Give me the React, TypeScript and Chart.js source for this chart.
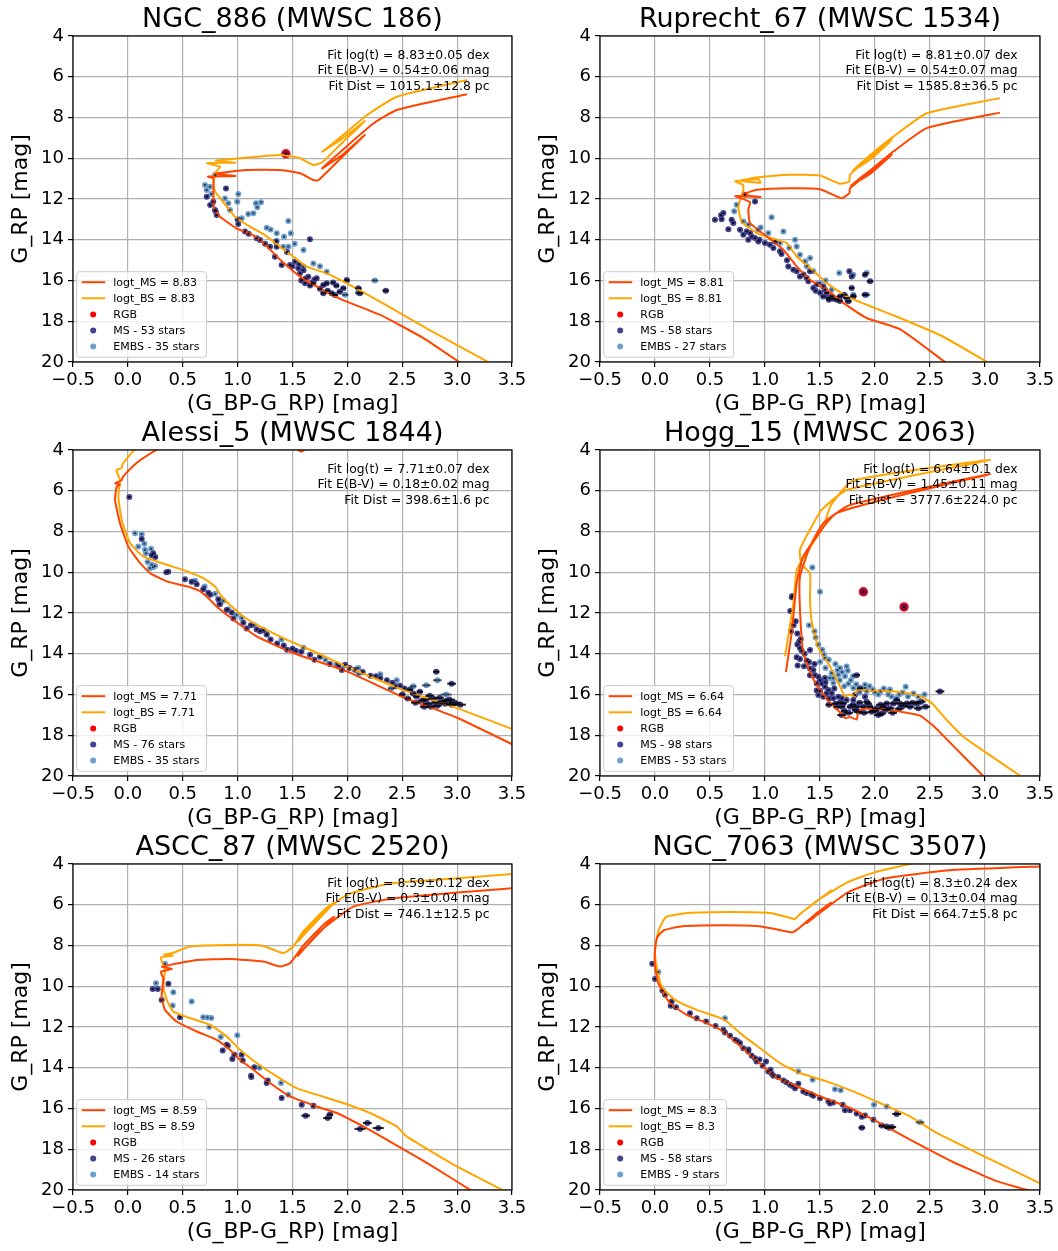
import React, { useEffect, useRef } from "react";
import { Chart, registerables } from "chart.js";
Chart.register(...registerables);
Chart.defaults.font.family = '"DejaVu Sans", sans-serif';

type P = number[];

const xTicks = [-0.5, 0, 0.5, 1, 1.5, 2, 2.5, 3, 3.5];
const yTicks = [4, 6, 8, 10, 12, 14, 16, 18, 20];

// ---------- Panel 1: NGC_886 ----------
const p1Title = "NGC_886 (MWSC 186)";
const p1Fit = ["Fit log(t) = 8.83±0.05 dex", "Fit E(B-V) = 0.54±0.06 mag", "Fit Dist = 1015.1±12.8 pc"];
const p1Logt = "8.83";
const p1Counts = [53, 35];
const p1MsIso: P[] = [[3.1,20.3],[2.7,18.85],[2.30,17.69],[1.96,16.96],[1.78,16.47],[1.57,15.81],[1.39,14.99],[1.27,14.34],[1.14,13.77],[0.99,13.44],[0.84,12.87],[0.79,12.54],[0.78,12.05],[0.78,11.39],[0.78,11.0],[0.73,10.9],[0.98,10.87],[0.80,10.76],[1.08,10.58],[1.39,10.58],[1.57,10.74],[1.69,11.07],[1.735,11.08],[1.95,9.95],[2.16,8.86],[1.96,9.80],[1.77,10.5],[1.99,9.43],[2.24,8.28],[2.45,7.63],[3.09,6.86]];
const p1BsIso: P[] = [[3.35,20.2],[2.75,18.43],[2.297,17.04],[1.994,16.14],[1.812,15.65],[1.629,15.32],[1.507,14.83],[1.386,14.34],[1.249,13.77],[1.113,13.36],[0.976,12.87],[0.855,12.05],[0.794,11.64],[0.778,11.23],[0.794,10.74],[0.84,10.41],[0.72,10.24],[0.98,10.22],[0.80,10.12],[0.95,10.04],[1.39,9.84],[1.57,10.0],[1.69,10.33],[1.77,10.2],[1.96,9.2],[2.16,8.17],[1.95,9.05],[1.77,9.68],[1.87,9.27],[2.18,7.88],[2.45,6.98],[3.09,6.16]];
const p1Rgb: P[] = [[1.44,9.78]];
const p1MsStars: P[] = [[0.718,11.89],[0.794,12.54],[0.809,12.79],[0.778,12.13],[0.894,11.48],[1.006,13.23],[1.067,13.60],[1.174,13.93],[1.204,14.01],[1.295,14.34],[1.356,14.34],[1.340,14.83],[1.401,15.24],[1.477,15.24],[1.523,15.08],[1.553,15.40],[1.568,15.65],[1.584,15.98],[1.614,16.14],[1.644,15.81],[1.690,16.14,0.02],[1.720,15.89],[1.781,16.22,0.02],[1.812,16.14,0.02],[1.857,16.63,0.025],[1.887,16.71,0.025],[1.781,16.63,0.025],[1.963,16.38,0.025],[1.994,15.98,0.02],[2.10,16.38,0.03],[2.115,16.63,0.03],[1.659,13.98],[2.35,16.5,0.03],[1.35,14.1],[1.45,14.6],[1.50,15.3],[1.62,15.9],[1.66,16.25,0.02],[1.75,16.4,0.02],[1.70,15.95],[1.82,16.5,0.025],[1.90,16.25,0.025],[1.00,13.0],[1.10,13.7],[1.25,14.2],[0.75,12.3],[0.80,12.6],[1.56,15.2],[1.60,15.5],[1.87,16.1,0.02],[1.58,16.0],[1.68,16.1],[1.93,16.55,0.025]];
const p1Embs: P[] = [[0.703,11.31],[0.718,11.56],[0.748,11.40],[0.794,10.82],[0.885,11.97],[0.915,12.21],[0.930,12.54],[1.006,11.76],[0.997,12.13],[1.037,12.95],[1.097,12.74],[1.143,12.70],[1.167,12.21],[1.179,12.41],[1.213,12.16],[1.265,13.41],[1.356,13.68],[1.423,13.85],[1.462,13.08],[1.484,13.68],[1.356,14.05],[1.462,14.34],[1.598,15.32],[1.690,15.16],[1.812,15.57],[2.0,16.0,0.02],[2.25,16.0,0.03],[1.98,16.7,0.03],[0.76,11.75],[1.30,13.5],[1.52,14.2],[1.60,14.5],[1.75,15.3],[2.10,16.6,0.03],[1.416,14.34]];

// ---------- Panel 2: Ruprecht_67 ----------
const p2Title = "Ruprecht_67 (MWSC 1534)";
const p2Fit = ["Fit log(t) = 8.81±0.07 dex", "Fit E(B-V) = 0.54±0.07 mag", "Fit Dist = 1585.8±36.5 pc"];
const p2Logt = "8.81";
const p2Counts = [58, 27];
const p2MsIso: P[] = [[2.66,20.1],[2.23,18.4],[1.924,17.84],[1.712,17.10],[1.561,16.45],[1.409,15.96],[1.288,15.31],[1.167,14.49],[1.015,13.84],[0.864,13.18],[0.848,12.53],[0.864,12.15],[0.73,11.86],[0.96,11.9],[0.80,11.78],[0.924,11.55],[1.227,11.47],[1.5,11.52],[1.697,11.96],[1.767,11.71],[1.773,11.47],[1.96,10.66],[2.152,9.83],[1.96,10.75],[1.78,11.35],[1.955,10.6],[2.167,9.67],[2.47,8.52],[3.136,7.76]];
const p2BsIso: P[] = [[3.05,20.1],[2.6,18.7],[2.227,17.84],[1.924,17.19],[1.742,16.78],[1.561,16.12],[1.379,15.23],[1.288,14.82],[1.197,14.16],[1.106,14.0],[0.924,13.67],[0.788,13.10],[0.758,12.37],[0.803,11.55],[0.80,11.3],[0.73,11.13],[0.94,11.03],[0.96,11.2],[0.78,11.1],[0.92,10.95],[1.227,10.81],[1.5,10.85],[1.682,11.25],[1.767,11.14],[1.773,10.8],[1.96,9.93],[2.152,9.10],[1.96,10.05],[1.80,10.6],[1.955,9.85],[2.167,8.94],[2.47,7.79],[3.136,7.05]];
const p2Rgb: P[] = [];
const p2MsStars: P[] = [[0.545,13.02],[0.621,12.69],[0.606,12.99],[0.697,13.02],[0.712,13.18],[0.667,13.48],[0.773,13.51],[0.833,13.59],[0.864,13.67],[0.803,13.75],[0.879,13.84],[0.909,13.92],[0.848,14.0],[0.939,14.08],[1.0,14.16],[1.045,14.25],[1.076,14.41],[1.136,14.57],[1.091,14.08],[1.212,15.31],[1.258,15.47],[1.288,15.55],[1.318,15.80],[1.379,15.88],[1.409,15.55],[1.394,16.04],[1.439,16.37],[1.530,16.29],[1.545,16.45],[1.561,16.61,0.02],[1.530,16.78,0.02],[1.576,16.86,0.02],[1.606,16.78,0.02],[1.652,16.94,0.025],[1.682,16.78,0.025],[1.742,16.86,0.03],[1.758,17.02,0.03],[1.788,16.37,0.025],[1.803,16.78,0.03],[1.767,15.55],[1.788,15.80],[1.909,15.72,0.02],[1.955,16.04,0.03],[1.909,16.70,0.03],[0.818,11.79],[0.909,12.12],[1.15,14.7],[1.2,15.0],[1.35,15.7],[1.47,16.2],[1.5,16.6],[1.62,16.9,0.02],[1.68,17.0,0.025],[1.46,16.5],[1.58,16.95,0.02],[0.95,14.0],[0.6,12.8],[1.72,16.7,0.03]];
const p2Embs: P[] = [[0.742,12.28],[0.803,13.10],[0.848,13.26],[1.03,13.67],[0.939,13.51],[1.167,13.59],[1.136,14.16],[1.273,14.0],[1.288,14.33],[1.318,14.74],[1.364,15.06],[1.439,15.55],[1.5,16.12],[1.606,16.45],[1.675,15.63],[1.803,16.70,0.02],[1.924,16.70,0.03],[1.924,15.63,0.02],[1.803,15.72],[1.06,12.9],[1.41,14.9],[0.96,13.4],[1.22,14.4],[1.55,16.0],[1.38,15.3],[0.72,12.6],[1.1,14.1]];

// ---------- Panel 3: Alessi_5 ----------
const p3Title = "Alessi_5 (MWSC 1844)";
const p3Fit = ["Fit log(t) = 7.71±0.07 dex", "Fit E(B-V) = 0.18±0.02 mag", "Fit Dist = 398.6±1.6 pc"];
const p3Logt = "7.71";
const p3Counts = [76, 35];
const p3MsIso: P[] = [[3.6,18.7],[3.0,17.14],[2.5,16.11],[2.0,14.88],[1.5,13.95],[1.174,13.15],[0.961,12.33],[0.824,11.76],[0.748,11.35],[0.657,10.93],[0.536,10.69],[0.354,10.45],[0.202,10.04],[0.11,9.54],[0.004,8.74],[-0.072,7.59],[-0.117,6.45],[-0.102,5.8],[-0.07,5.7],[-0.115,5.63],[-0.06,5.5],[-0.044,5.31],[0.077,4.65],[0.259,4.0],[0.6,3.0],[1.2,2.8],[1.48,3.7],[1.58,4.08],[1.68,3.7]];
const p3BsIso: P[] = [[3.6,17.9],[3.0,16.67],[2.5,15.76],[2.0,14.64],[1.7,13.9],[1.416,13.23],[1.204,12.66],[1.052,12.17],[0.93,11.60],[0.855,11.19],[0.794,10.70],[0.687,10.29],[0.536,9.95],[0.354,9.63],[0.14,9.22],[0.019,8.57],[-0.056,7.43],[-0.087,6.29],[-0.072,5.47],[-0.105,4.98],[-0.06,4.9],[-0.044,4.65],[0.062,4.0],[0.4,3.0]];
const p3Rgb: P[] = [];
const p3MsStars: P[] = [[0.013,6.31],[0.126,8.37],[0.217,9.16],[0.232,9.07],[0.25,9.25],[0.368,9.97],[0.52,10.34],[0.581,10.47],[0.627,10.59],[0.687,10.83],[0.733,11.0],[0.75,11.1],[0.824,11.33],[0.839,11.57],[0.946,11.98],[0.961,12.27],[1.052,12.48],[1.082,12.76],[1.174,12.81],[1.204,12.89],[1.235,12.85],[1.265,13.06],[1.30,13.3],[1.36,13.5],[1.42,13.6],[1.50,13.75],[1.53,13.85],[1.58,13.9],[1.66,14.05],[1.75,14.15],[1.84,14.5],[1.92,14.6],[1.98,14.54],[2.02,14.7],[2.07,14.78],[2.14,14.9],[2.21,15.08],[2.26,15.1],[2.30,15.2],[2.36,15.3],[2.41,15.42],[2.44,15.6],[2.48,15.57],[2.52,15.7],[2.57,15.76,0.03],[2.60,15.95,0.03],[2.63,16.1,0.03],[2.66,15.86,0.03],[2.68,16.3,0.04],[2.71,16.25,0.04],[2.73,16.45,0.04],[2.75,16.06,0.04],[2.78,16.2,0.04],[2.80,16.4,0.04],[2.82,16.55,0.04],[2.84,16.16,0.04],[2.86,16.35,0.04],[2.89,16.45,0.05],[2.91,16.3,0.05],[2.93,16.25,0.05],[2.95,16.5,0.05],[2.98,16.4,0.05],[3.03,16.5,0.05],[2.81,14.88,0.03],[2.95,15.47,0.04],[2.62,16.4,0.04],[2.70,16.6,0.04],[2.76,16.6,0.04],[2.55,16.2,0.03],[2.5,16.0,0.03],[1.95,14.8],[1.70,14.3],[1.45,13.8],[1.12,12.6],[0.90,11.85],[0.35,10.0]];
const p3Embs: P[] = [[0.065,8.08],[0.126,8.13],[0.095,8.74],[0.156,8.90],[0.211,8.85],[0.165,9.07],[0.217,9.63],[0.247,9.69],[0.202,9.80],[0.612,10.42],[0.794,11.06],[0.833,11.55],[0.915,11.81],[0.991,12.09],[1.037,12.25],[1.265,13.04],[0.18,9.5],[0.23,9.75],[0.15,8.6],[0.70,10.7],[0.87,11.4],[1.15,12.6],[1.40,13.3],[1.60,13.7],[1.80,14.3],[2.10,14.7],[2.30,15.0],[2.45,15.3],[2.60,15.6,0.03],[2.82,15.3,0.04],[2.72,15.55,0.04],[2.40,15.7,0.03],[2.90,16.0,0.05],[2.10,15.0],[1.90,14.5]];

// ---------- Panel 4: Hogg_15 ----------
const p4Title = "Hogg_15 (MWSC 2063)";
const p4Fit = ["Fit log(t) = 6.64±0.1 dex", "Fit E(B-V) = 1.45±0.11 mag", "Fit Dist = 3777.6±224.0 pc"];
const p4Logt = "6.64";
const p4Counts = [98, 53];
const p4MsIso: P[] = [[3.02,20.2],[2.68,18.35],[2.53,17.53],[2.409,17.04],[2.258,16.87],[2.076,16.73],[1.894,16.70],[1.848,16.87],[1.833,17.23],[1.773,17.11],[1.727,17.15],[1.682,16.87],[1.561,16.22],[1.439,15.24],[1.348,13.94],[1.318,11.81],[1.318,10.21],[1.409,8.74],[1.53,7.59],[1.773,6.70],[3.045,5.18],[1.652,7.10],[1.348,9.22],[1.288,10.53],[1.258,12.17],[1.243,12.96],[1.19,14.9]];
const p4BsIso: P[] = [[3.35,20.1],[3.05,19.0],[2.803,18.07],[2.652,17.25],[2.515,16.42],[2.409,16.09],[2.288,15.92],[2.136,15.84],[1.924,15.80],[1.833,15.76],[1.818,16.09],[1.773,16.0],[1.727,16.09],[1.682,15.60],[1.591,14.62],[1.485,13.7],[1.424,12.4],[1.409,11.35],[1.409,10.05],[1.33,9.6],[1.318,8.9],[1.42,7.8],[1.515,6.94],[1.742,5.96],[3.045,4.49],[1.80,5.5],[1.60,6.7],[1.53,7.76],[1.35,9.3],[1.288,9.88],[1.258,11.52],[1.182,14.13]];
const p4Rgb: P[] = [[1.894,10.96],[2.264,11.70]];
const p4MsStars: P[] = [[1.243,11.23],[1.279,12.41],[1.236,12.90],[1.294,13.00],[1.325,13.27],[1.294,13.55],[1.318,13.72],[1.333,13.85],[1.288,14.17],[1.318,14.26],[1.297,14.58],[1.379,14.33],[1.409,13.81],[1.355,14.61],[1.409,14.72],[1.439,14.80],[1.455,15.05],[1.409,15.05],[1.485,15.13],[1.470,15.46],[1.515,15.46],[1.5,15.82],[1.545,15.62],[1.576,15.78],[1.561,15.94],[1.606,15.94],[1.485,16.03],[1.530,16.11],[1.621,16.19],[1.667,16.11],[1.652,16.60,0.03],[1.712,16.44,0.03],[1.697,17.01,0.04],[1.773,16.60,0.03],[1.742,16.27],[1.803,16.27],[1.833,16.60,0.03],[1.848,16.85,0.04],[1.894,16.60,0.03],[1.924,16.36,0.03],[1.909,16.11],[1.864,15.70,0.03],[1.955,16.60,0.03],[1.970,16.85,0.04],[2.015,16.68,0.04],[2.030,17.01,0.04],[2.061,16.93,0.04],[2.076,16.60,0.03],[2.106,16.44,0.03],[2.136,16.68,0.04],[2.167,16.44,0.03],[2.197,16.27,0.03],[2.227,16.44,0.04],[2.288,16.44,0.04],[2.318,16.60,0.04],[2.379,16.44,0.04],[2.394,16.68,0.04],[1.833,15.05,0.03],[1.818,16.03],[2.59,15.85,0.04],[1.697,16.19],[1.545,15.19],[1.26,12.6],[1.31,13.4],[1.36,14.0],[1.40,14.4],[1.45,14.5],[1.50,15.3],[1.55,15.4],[1.58,16.2],[1.63,15.7],[1.68,16.4,0.03],[1.72,16.8,0.03],[1.76,16.9,0.04],[1.80,16.5,0.03],[1.86,16.4,0.03],[1.90,16.9,0.04],[1.94,16.45,0.03],[2.00,16.8,0.04],[2.05,16.5,0.04],[2.10,16.75,0.04],[2.16,16.9,0.04],[2.22,16.7,0.04],[2.26,16.55,0.04],[2.34,16.4,0.04],[2.42,16.35,0.04],[2.46,16.6,0.04],[1.64,16.45,0.03],[1.70,16.6,0.03],[1.82,16.75,0.03],[1.58,16.5,0.03],[1.47,15.8],[1.248,11.16],[1.23,11.9]];
const p4Embs: P[] = [[1.43,9.77],[1.5,10.96],[1.485,13.55],[1.536,14.04],[1.545,14.21],[1.682,14.70],[1.742,14.62],[1.752,14.83],[1.727,15.11],[1.667,15.03],[1.606,14.95],[1.591,15.19],[1.621,15.44],[1.758,15.47],[1.803,15.68],[1.864,15.68],[1.909,15.52],[1.909,15.68],[1.924,15.84],[2.030,16.0],[2.121,16.0],[2.136,15.76],[2.197,16.19],[2.279,15.62],[2.394,16.11],[1.52,13.8],[1.58,14.3],[1.64,14.5],[1.70,14.9],[1.78,15.3],[1.83,15.5],[1.95,15.6],[2.00,15.9],[2.08,15.7],[2.25,15.9],[2.30,16.1],[1.55,14.7],[1.62,15.2],[1.68,15.3],[1.72,15.6],[1.86,15.9],[1.98,15.75],[2.15,16.1],[2.35,15.95],[2.45,16.0],[1.50,14.4],[1.46,13.2],[1.40,12.6],[1.45,12.9],[2.05,15.85],[1.80,15.1],[2.22,16.0],[1.66,14.8]];

// ---------- Panel 5: ASCC_87 ----------
const p5Title = "ASCC_87 (MWSC 2520)";
const p5Fit = ["Fit log(t) = 8.59±0.12 dex", "Fit E(B-V) = 0.3±0.04 mag", "Fit Dist = 746.1±12.5 pc"];
const p5Logt = "8.59";
const p5Counts = [26, 14];
const p5MsIso: P[] = [[3.15,20.1],[2.75,18.75],[2.358,17.53],[2.145,16.88],[1.903,16.22],[1.72,15.90],[1.477,15.41],[1.295,14.75],[1.143,14.10],[1.022,13.61],[0.93,13.12],[0.809,12.63],[0.627,12.22],[0.444,11.73],[0.338,11.16],[0.308,10.50],[0.323,9.6],[0.30,9.3],[0.40,9.15],[0.31,9.05],[0.384,8.95],[0.627,8.71],[0.93,8.66],[1.234,8.79],[1.386,9.03],[1.477,8.87],[1.6,8.0],[1.8,6.9],[1.88,6.6],[1.58,8.3],[1.55,8.5],[1.75,7.3],[2.05,6.1],[2.4,5.7],[3.0,5.4],[3.6,5.15]];
const p5BsIso: P[] = [[3.45,20.1],[2.95,18.7],[2.540,17.37],[2.449,16.88],[2.206,16.22],[1.963,15.73],[1.720,15.32],[1.538,15.0],[1.356,14.42],[1.173,13.77],[1.022,13.12],[0.900,12.46],[0.748,11.89],[0.566,11.56],[0.414,11.24],[0.354,10.67],[0.323,10.02],[0.338,9.20],[0.30,8.6],[0.41,8.5],[0.33,8.45],[0.40,8.38],[0.566,8.05],[0.93,7.97],[1.234,8.02],[1.416,8.38],[1.507,8.05],[1.6,7.3],[1.8,6.2],[1.88,5.9],[1.6,7.5],[1.55,7.8],[1.75,6.5],[2.0,5.5],[2.4,4.95],[3.0,4.7],[3.6,4.45]];
const p5Rgb: P[] = [];
const p5MsStars: P[] = [[0.226,10.14],[0.272,10.14],[0.308,10.67],[0.369,9.88],[0.475,11.52],[0.864,13.15],[0.90,12.87],[0.91,12.92],[0.952,13.57],[0.970,13.36],[1.037,13.36],[1.046,13.64],[1.152,13.98],[1.122,14.39],[1.125,14.45],[1.265,14.75],[1.274,14.62],[1.401,15.48],[1.584,15.81],[1.690,15.86],[1.620,16.35,0.04],[1.820,16.47,0.04],[1.841,16.30,0.03],[2.115,17.0,0.05],[2.182,16.71,0.04],[2.282,16.96,0.05]];
const p5Embs: P[] = [[0.338,8.90],[0.256,9.85],[0.414,10.29],[0.408,10.95],[0.581,10.75],[0.687,11.52],[0.724,11.53],[0.760,11.56],[0.742,12.0],[0.846,12.49],[0.997,12.41],[1.395,14.75],[1.462,15.32],[1.2,14.0]];

// ---------- Panel 6: NGC_7063 ----------
const p6Title = "NGC_7063 (MWSC 3507)";
const p6Fit = ["Fit log(t) = 8.3±0.24 dex", "Fit E(B-V) = 0.13±0.04 mag", "Fit Dist = 664.7±5.8 pc"];
const p6Logt = "8.3";
const p6Counts = [58, 9];
const p6MsIso: P[] = [[3.45,20.1],[3.1,19.55],[2.7,18.6],[2.318,17.53],[1.985,16.55],[1.742,15.90],[1.5,15.41],[1.288,14.91],[1.106,14.50],[0.985,13.94],[0.864,13.36],[0.742,12.79],[0.621,12.22],[0.47,11.81],[0.288,11.40],[0.136,10.83],[0.03,9.85],[0.0,9.03],[0.0,8.22],[0.02,7.6],[0.08,7.25],[0.25,7.05],[0.6,7.0],[0.95,7.05],[1.1,7.2],[1.25,7.35],[1.32,7.1],[1.45,6.5],[1.6,5.9],[1.38,6.9],[1.45,6.6],[1.75,5.4],[2.1,4.7],[2.7,4.3],[3.6,4.1]];
const p6BsIso: P[] = [[3.55,19.8],[3.05,18.5],[2.561,17.20],[2.318,16.39],[2.045,15.73],[1.803,15.16],[1.561,14.67],[1.318,14.26],[1.136,13.77],[0.955,13.04],[0.773,12.30],[0.652,11.73],[0.561,11.49],[0.379,11.16],[0.182,10.67],[0.061,10.01],[0.015,9.03],[0.0,8.3],[0.03,7.3],[0.1,6.6],[0.3,6.4],[0.7,6.35],[1.05,6.4],[1.2,6.6],[1.27,6.7],[1.32,6.45],[1.45,5.9],[1.6,5.3],[1.38,6.2],[1.5,5.7],[1.75,4.9],[2.0,4.4],[2.4,3.9]];
const p6Rgb: P[] = [];
const p6MsStars: P[] = [[-0.025,8.90],[0.0,9.64],[0.067,10.21],[0.091,10.42],[0.152,10.75],[0.143,10.96],[0.191,11.03],[0.318,11.32],[0.379,11.57],[0.464,11.73],[0.621,12.14],[0.636,12.27],[0.682,12.43],[0.727,12.63],[0.773,12.79],[0.803,13.04],[0.848,13.20],[0.879,13.41],[0.909,13.53],[0.924,13.69],[0.979,13.90],[1.009,13.69],[1.03,14.18],[1.061,14.29],[1.076,14.39],[1.167,14.62],[1.197,14.72],[1.227,14.83],[1.303,14.78],[1.273,15.0],[1.348,15.16],[1.379,15.24],[1.439,15.37],[1.576,15.65],[1.591,15.76],[1.706,15.81],[1.727,16.09],[1.773,16.09],[1.833,16.25],[1.909,16.34],[1.985,16.55],[2.061,16.84,0.03],[2.106,16.88,0.03],[2.152,16.91,0.04],[2.197,16.27,0.04],[1.88,16.94,0.03],[0.55,11.95],[0.75,12.7],[0.85,13.1],[0.95,13.6],[1.05,14.1],[1.12,14.45],[1.25,14.9],[1.42,15.3],[1.50,15.5],[1.62,15.7],[1.88,16.4],[2.13,16.95,0.04]];
const p6Embs: P[] = [[0.636,11.57],[1.303,14.19],[1.433,14.59],[1.636,15.05],[1.688,15.11],[1.991,15.81],[2.106,15.90],[2.409,16.68,0.04],[0.03,9.3]];

const PANELS = [
  { title: p1Title, fit: p1Fit, logt: p1Logt, counts: p1Counts, ms: p1MsIso, bs: p1BsIso, rgb: p1Rgb, stars: p1MsStars, embs: p1Embs },
  { title: p2Title, fit: p2Fit, logt: p2Logt, counts: p2Counts, ms: p2MsIso, bs: p2BsIso, rgb: p2Rgb, stars: p2MsStars, embs: p2Embs },
  { title: p3Title, fit: p3Fit, logt: p3Logt, counts: p3Counts, ms: p3MsIso, bs: p3BsIso, rgb: p3Rgb, stars: p3MsStars, embs: p3Embs },
  { title: p4Title, fit: p4Fit, logt: p4Logt, counts: p4Counts, ms: p4MsIso, bs: p4BsIso, rgb: p4Rgb, stars: p4MsStars, embs: p4Embs },
  { title: p5Title, fit: p5Fit, logt: p5Logt, counts: p5Counts, ms: p5MsIso, bs: p5BsIso, rgb: p5Rgb, stars: p5MsStars, embs: p5Embs },
  { title: p6Title, fit: p6Fit, logt: p6Logt, counts: p6Counts, ms: p6MsIso, bs: p6BsIso, rgb: p6Rgb, stars: p6MsStars, embs: p6Embs },
];

const C_MSLINE = "#ff4500";
const C_BSLINE = "#ffa500";
const C_RGB = "#ff0000";
const C_MS = "#43428f";
const C_EMBS = "#6e9fcf";

const CW = 527, CH = 420;
const FONT = '"DejaVu Sans", sans-serif';

const toXY = (a: P[]) => a.map((p) => ({ x: p[0], y: p[1] }));
const toErr = (a: P[]) => a.map((p) => (p.length > 2 ? p[2] : 0));
const fmtX = (v: number) => v.toFixed(1).replace("-", "\u2212");

function Panel({ cfg, left, top, padR }: any) {
  const ref = useRef<HTMLCanvasElement>(null);
  useEffect(() => {
    const legendItems = [
      { kind: "line", color: C_MSLINE, text: `logt_MS = ${cfg.logt}` },
      { kind: "line", color: C_BSLINE, text: `logt_BS = ${cfg.logt}` },
      { kind: "dot", color: C_RGB, text: "RGB" },
      { kind: "dot", color: C_MS, text: `MS - ${cfg.counts[0]} stars` },
      { kind: "dot", color: C_EMBS, text: `EMBS - ${cfg.counts[1]} stars` },
    ];
    const decor = {
      id: "decor",
      afterDatasetsDraw(chart: any) {
        const ctx = chart.ctx;
        const ca = chart.chartArea;
        const xs = chart.scales.x;
        const ppu = Math.abs(xs.getPixelForValue(1) - xs.getPixelForValue(0));
        ctx.save();
        ctx.beginPath();
        ctx.rect(ca.left, ca.top, ca.right - ca.left, ca.bottom - ca.top);
        ctx.clip();
        chart.data.datasets.forEach((ds: any, i: number) => {
          if (!ds.errs) return;
          const meta = chart.getDatasetMeta(i);
          ctx.strokeStyle = ds.errColor;
          ctx.lineWidth = 2;
          meta.data.forEach((el: any, j: number) => {
            const e = ds.errs[j];
            const h = e > 0 ? Math.max(1.2, e * ppu) : 1.1;
            ctx.beginPath();
            ctx.moveTo(el.x - h, el.y);
            ctx.lineTo(el.x + h, el.y);
            ctx.stroke();
          });
        });
        ctx.restore();
      },
      afterDraw(chart: any) {
        const ctx = chart.ctx;
        const ca = chart.chartArea;
        ctx.save();
        ctx.strokeStyle = "#000";
        ctx.lineWidth = 1.2;
        ctx.strokeRect(ca.left, ca.top, ca.right - ca.left, ca.bottom - ca.top);
        ctx.fillStyle = "#000";
        ctx.font = `27px ${FONT}`;
        ctx.textAlign = "center";
        ctx.textBaseline = "middle";
        ctx.fillText(cfg.title, (ca.left + ca.right) / 2, 19.5);
        ctx.font = `12.4px ${FONT}`;
        ctx.textAlign = "right";
        const fy = [19.5, 35, 50.5];
        cfg.fit.forEach((t: string, i: number) => ctx.fillText(t, ca.right - 22.5, ca.top + fy[i]));
        ctx.font = `11px ${FONT}`;
        const tw = Math.max(...legendItems.map((it) => ctx.measureText(it.text).width));
        const L = ca.left + 3.7;
        const H = 85.6;
        const B = ca.bottom - 4.7;
        const T = B - H;
        const W = 36.6 + tw + 7;
        ctx.beginPath();
        if (ctx.roundRect) ctx.roundRect(L, T, W, H, 3);
        else ctx.rect(L, T, W, H);
        ctx.fillStyle = "rgba(255,255,255,0.8)";
        ctx.fill();
        ctx.strokeStyle = "#cccccc";
        ctx.lineWidth = 1;
        ctx.stroke();
        ctx.textAlign = "left";
        ctx.textBaseline = "middle";
        legendItems.forEach((it, i) => {
          const cy = T + 10.5 + i * 16.1;
          if (it.kind === "line") {
            ctx.strokeStyle = it.color;
            ctx.lineWidth = 2;
            ctx.beginPath();
            ctx.moveTo(L + 5, cy);
            ctx.lineTo(L + 28.5, cy);
            ctx.stroke();
          } else {
            ctx.fillStyle = it.color;
            ctx.beginPath();
            ctx.arc(L + 16.5, cy, 3, 0, Math.PI * 2);
            ctx.fill();
          }
          ctx.fillStyle = "#000";
          ctx.fillText(it.text, L + 36.6, cy + 0.5);
        });
        ctx.restore();
      },
    };
    const gridOpts = { color: "#b0b0b0", lineWidth: 1.2, tickColor: "#000", tickLength: 5, tickWidth: 1.2 };
    const chart = new Chart(ref.current as HTMLCanvasElement, {
      type: "scatter",
      data: {
        datasets: [
          { data: toXY(cfg.ms), showLine: true, borderColor: C_MSLINE, borderWidth: 2, pointRadius: 0, tension: 0.15, clip: 0, fill: false } as any,
          { data: toXY(cfg.bs), showLine: true, borderColor: C_BSLINE, borderWidth: 2, pointRadius: 0, tension: 0.15, clip: 0, fill: false } as any,
          { data: toXY(cfg.rgb), errs: toErr(cfg.rgb), errColor: "rgba(40,0,20,0.9)", pointRadius: 4, backgroundColor: "#7a1040", borderColor: "#e8102a", borderWidth: 1.5 } as any,
          { data: toXY(cfg.stars), errs: toErr(cfg.stars), errColor: "rgba(0,0,0,0.85)", pointRadius: 3, backgroundColor: C_MS, borderWidth: 0 } as any,
          { data: toXY(cfg.embs), errs: toErr(cfg.embs), errColor: "rgba(0,0,0,0.6)", pointRadius: 3, backgroundColor: C_EMBS, borderWidth: 0 } as any,
        ],
      },
      options: {
        animation: false,
        responsive: false,
        devicePixelRatio: 1,
        events: [],
        layout: { padding: { top: 36, right: padR, bottom: 0, left: 0 } },
        elements: { line: { capBezierPoints: false } },
        plugins: { legend: { display: false }, tooltip: { enabled: false }, title: { display: false } },
        scales: {
          x: {
            type: "linear",
            min: -0.5,
            max: 3.5,
            afterBuildTicks: (s: any) => { s.ticks = xTicks.map((v) => ({ value: v })); },
            ticks: { autoSkip: false, maxRotation: 0, font: { size: 18 }, color: "#000", padding: 3, callback: (v: any) => fmtX(Number(v)) },
            grid: gridOpts,
            border: { display: false },
            title: { display: true, text: "(G_BP-G_RP) [mag]", font: { size: 22 }, color: "#000", padding: { top: 0, bottom: 2.2 } },
            afterFit: (s: any) => { s.height = 58; s.paddingLeft = 0; s.paddingRight = 0; },
          },
          y: {
            type: "linear",
            reverse: true,
            min: 4,
            max: 20,
            afterBuildTicks: (s: any) => { s.ticks = yTicks.map((v) => ({ value: v })); },
            ticks: { autoSkip: false, font: { size: 18 }, color: "#000", padding: 4, callback: (v: any) => String(v) },
            grid: gridOpts,
            border: { display: false },
            title: { display: true, text: "G_RP [mag]", font: { size: 22 }, color: "#000", padding: { top: 7.8, bottom: 0 } },
            afterFit: (s: any) => { s.width = 73; s.paddingTop = 0; s.paddingBottom = 0; },
          },
        },
      } as any,
      plugins: [decor],
    });
    return () => chart.destroy();
  }, []);
  return (
    <canvas
      ref={ref}
      width={CW}
      height={CH}
      style={{ position: "absolute", left, top, width: CW, height: CH }}
    />
  );
}

export default function App() {
  return (
    <div style={{ position: "absolute", left: 0, top: 0, width: 1058, height: 1251, background: "#fff" }}>
      {PANELS.map((cfg, i) => {
        const col = i % 2;
        const row = Math.floor(i / 2);
        return <Panel key={i} cfg={cfg} left={col * 527} top={row * 414} padR={col === 0 ? 15 : 14} />;
      })}
    </div>
  );
}
